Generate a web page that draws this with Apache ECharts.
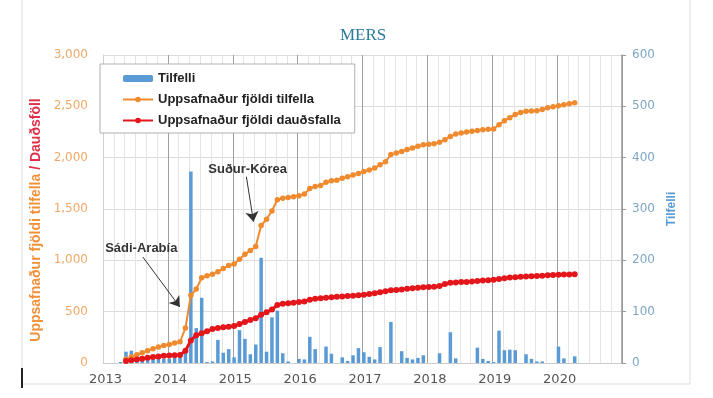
<!DOCTYPE html>
<html>
<head>
<meta charset="utf-8">
<script src="https://cdn.jsdelivr.net/npm/echarts@6/dist/echarts.min.js"></script>
<style>
html,body{margin:0;padding:0;background:#fff;}
#chart{width:713px;height:398px;}
</style>
</head>
<body>
<div id="chart"></div>
<script>
// ---- data ----
const startYear = 2013;
const yearTicks = ['2013','2014','2015','2016','2017','2018','2019','2020'];
// monthly new cases, Jan 2013 .. Apr 2020
const tilfelli = [
  0,0,0,2,22,24,10,12,13,14,15,8,
  8,10,12,22,373,68,127,2,3,45,20,27,
  11,64,47,17,36,205,22,89,102,19,3,0,
  8,7,51,27,0,32,18,0,11,4,15,29,
  21,12,7,31,0,80,0,23,10,7,10,15,
  0,0,19,0,60,9,0,0,0,30,8,4,
  2,63,25,26,25,0,17,8,3,3,0,0,
  32,9,0,13
];
// cumulative cases, May 2013 .. Apr 2020
const lineStartMonth = 4;
const uppsTilfelli = [
  36,60,80,100,120,140,155,170,
  180,195,207,340,660,720,830,850,865,890,920,950,
  965,1010,1060,1095,1135,1340,1400,1480,1590,1605,1612,1620,
  1630,1645,1700,1720,1730,1760,1775,1780,1800,1815,1830,1845,
  1865,1880,1900,1930,1960,2030,2045,2060,2080,2095,2110,2125,
  2130,2135,2150,2175,2205,2230,2240,2250,2258,2265,2272,2276,
  2280,2320,2360,2390,2420,2440,2452,2455,2458,2470,2485,2497,
  2505,2515,2525,2535
];
// cumulative deaths, May 2013 .. Apr 2020
const uppsDaudsfoll = [
  20,28,35,42,50,58,64,70,
  72,75,78,120,220,270,290,310,330,340,348,354,
  360,380,400,420,435,470,495,520,565,578,582,588,
  595,600,615,625,630,635,640,645,648,652,656,660,
  665,672,680,690,698,708,712,716,722,728,733,737,
  740,742,750,770,782,785,788,790,795,799,803,807,
  810,818,826,833,836,839,842,845,848,851,854,857,
  859,861,863,864
];
const annotations = [
  {text:'Sádi-Arabía', at:[2013.59,1120], from:[2013.615,1032], to:[2014.185,545]},
  {text:'Suður-Kórea', at:[2015.23,1890], from:[2015.21,1815], to:[2015.32,1376]}
];

const monthX = i => startYear + (i + 0.25) / 12;
const barData = tilfelli.map((v,i)=>[monthX(i), v]);
const casesData = uppsTilfelli.map((v,i)=>[monthX(i+lineStartMonth), v]);
const deathsData = uppsDaudsfoll.map((v,i)=>[monthX(i+lineStartMonth), v]);

const chart = echarts.init(document.getElementById('chart'));
const fmtThousands = v => String(v).replace(/\B(?=(\d{3})+(?!\d))/g, ',');

chart.setOption({
  animation:false,
  backgroundColor:'#fff',
  title:{
    text:'MERS', left:335, top:22,
    textStyle:{fontFamily:'Liberation Serif', fontWeight:'normal', fontSize:17, color:'#2a7b9b'}
  },
  legend:{
    orient:'vertical', left:100, top:64,
    padding:[8,14,6,22], itemGap:8, itemWidth:30, itemHeight:7,
    backgroundColor:'#fff', borderColor:'#b0b0b0', borderWidth:1,
    textStyle:{fontFamily:'Liberation Sans', fontWeight:'bold', fontSize:13, color:'#222'},
    data:['Tilfelli','Uppsafnaður fjöldi tilfella','Uppsafnaður fjöldi dauðsfalla']
  },
  grid:{left:103, right:91, top:55, bottom:35},
  xAxis:{
    type:'value', min:2013, max:2021, interval:1,
    axisLine:{show:true, lineStyle:{color:'#cccccc'}},
    axisTick:{show:false},
    axisLabel:{
      margin:10, fontSize:13, fontFamily:'DejaVu Sans', color:'#555', padding:[0,0,0,5],
      formatter: v => { const s = String(v); return yearTicks.indexOf(s) >= 0 ? s : ''; }
    },
    splitLine:{show:true, lineStyle:{color:'#a0a0a0', width:1}},
    minorTick:{show:false, splitNumber:6},
    minorSplitLine:{show:true, lineStyle:{color:'#e4e4e4', width:1}}
  },
  yAxis:[
    {
      type:'value', min:0, max:3000, interval:500, position:'left',
      name:'{a|Uppsafnaður fjöldi tilfella }{b|/ Dauðsföll}',
      nameLocation:'middle', nameGap:56,
      nameTextStyle:{
        padding:[0,22,0,0],
        rich:{
          a:{color:'#f0913a', fontWeight:'bold', fontSize:14, fontFamily:'Liberation Sans'},
          b:{color:'#e0304a', fontWeight:'bold', fontSize:14, fontFamily:'Liberation Sans'}
        }
      },
      axisLine:{show:true, lineStyle:{color:'#d0d0d0'}},
      axisTick:{show:false},
      axisLabel:{margin:15, fontSize:12, fontFamily:'DejaVu Sans', color:'#f0a868', formatter:fmtThousands},
      splitLine:{show:true, lineStyle:{color:'#dddddd'}}
    },
    {
      type:'value', min:0, max:600, interval:100, position:'right',
      name:'Tilfelli', nameLocation:'middle', nameGap:44,
      nameTextStyle:{color:'#5b9bd5', fontWeight:'bold', fontSize:12, fontFamily:'Liberation Sans'},
      axisLine:{show:true, lineStyle:{color:'#999', width:1.5}},
      axisTick:{show:true, length:4, lineStyle:{color:'#999'}},
      axisLabel:{margin:10, fontSize:12, fontFamily:'DejaVu Sans', color:'#7ea6c6'},
      splitLine:{show:false}
    }
  ],
  series:[
    {
      name:'Tilfelli', type:'bar', yAxisIndex:1, barWidth:3.5,
      itemStyle:{color:'#5b9bd5'},
      data:barData, z:2
    },
    {
      name:'Uppsafnaður fjöldi tilfella', type:'line', yAxisIndex:0,
      symbol:'circle', symbolSize:5.5,
      lineStyle:{color:'#ef8a2e', width:2},
      itemStyle:{color:'#ef8a2e'},
      data:casesData, z:4,
      markLine:{
        silent:true, symbol:['none','arrow'], symbolSize:10,
        itemStyle:{color:'#222'},
        lineStyle:{color:'#333', width:1, type:'solid'},
        label:{show:false},
        data: annotations.map(a=>[{coord:a.from},{coord:a.to}])
      },
      markPoint:{
        silent:true,
        data: annotations.map(a=>({
          coord:a.at, symbol:'circle', symbolSize:1, itemStyle:{color:'rgba(0,0,0,0)'},
          label:{show:true, position:'inside', formatter:a.text, color:'#333',
                 fontFamily:'Liberation Sans', fontWeight:'bold', fontSize:13}
        }))
      }
    },
    {
      name:'Uppsafnaður fjöldi dauðsfalla', type:'line', yAxisIndex:0,
      symbol:'circle', symbolSize:6,
      lineStyle:{color:'#e3161b', width:3},
      itemStyle:{color:'#e3161b'},
      data:deathsData, z:5
    }
  ],
  graphic:[
    {type:'rect', z:-1, shape:{x:22, y:-1, width:668, height:385}, style:{fill:'none', stroke:'#dcdcdc', lineWidth:1}},
    {type:'line', shape:{x1:22, y1:368, x2:22, y2:388}, style:{stroke:'#222', lineWidth:2}}
  ]
});
</script>
</body>
</html>
